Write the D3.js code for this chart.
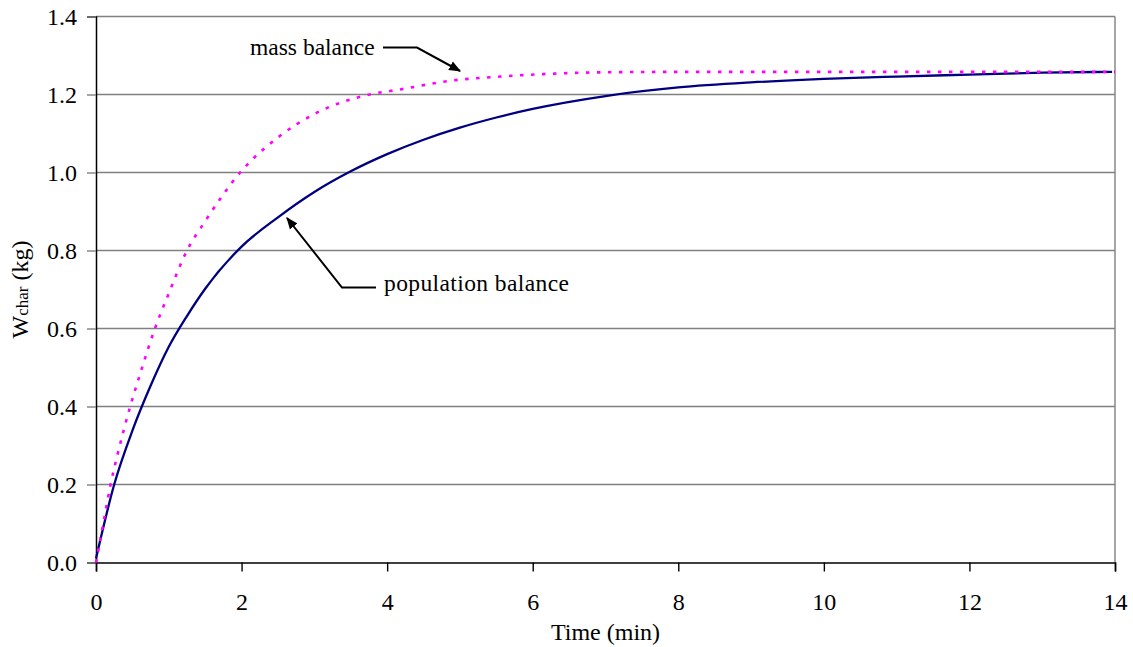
<!DOCTYPE html>
<html>
<head>
<meta charset="utf-8">
<script src="https://cdn.jsdelivr.net/npm/d3@7"></script>
<style>
  html, body { margin: 0; padding: 0; background: #fff; }
  svg { display: block; }
  text { font-family: "Liberation Serif", "Times New Roman", serif; fill: #000; }
</style>
</head>
<body>
<svg id="chart" width="1133" height="647"></svg>
<script>
// ---- data ----
const massTime  = [0, 0.1, 0.2, 0.3, 0.47, 0.6, 0.81, 1.0, 1.25, 1.5, 1.98, 2.5, 3.0, 3.76, 4.18, 4.86, 5.55, 6.37, 7.0, 8.0, 10.0, 12.0, 14.0];
const massValue = [0, 0.10, 0.20, 0.28, 0.40, 0.48, 0.60, 0.69, 0.80, 0.875, 1.00, 1.09, 1.15, 1.20, 1.213, 1.235, 1.246, 1.254, 1.257, 1.258, 1.258, 1.258, 1.258];

const popTime  = [0, 0.25, 0.5, 0.75, 1.0, 1.25, 1.5, 2.0, 2.5, 3.0, 3.5, 4.0, 4.5, 5.0, 5.5, 6.0, 7.0, 8.0, 9.0, 10.0, 11.0, 12.0, 13.0, 13.96];
const popValue = [0.01, 0.20, 0.338, 0.453, 0.553, 0.632, 0.702, 0.81, 0.885, 0.95, 1.003, 1.047, 1.084, 1.115, 1.141, 1.163, 1.196, 1.218, 1.231, 1.24, 1.246, 1.251, 1.256, 1.258];

const xTicks = [0, 2, 4, 6, 8, 10, 12, 14];
const yTicks = [0, 0.2, 0.4, 0.6, 0.8, 1.0, 1.2, 1.4];

const labels = {
  x: "Time (min)",
  yMain: "W",
  ySub: "char",
  yUnit: " (kg)",
  mass: "mass balance",
  pop: "population balance"
};

// ---- layout ----
const svg = d3.select("#chart");
const L = 96, R = 1115, T = 16.5, B = 562.5;

const x = d3.scaleLinear().domain([0, 14]).range([L, R]);
const y = d3.scaleLinear().domain([0, 1.4]).range([B, T]);

// gridlines
svg.append("g")
  .selectAll("line")
  .data(yTicks.slice(1))
  .join("line")
  .attr("x1", L).attr("x2", R)
  .attr("y1", d => y(d)).attr("y2", d => y(d))
  .attr("stroke", "#808080").attr("stroke-width", 1.4);

// right border
svg.append("line")
  .attr("x1", R).attr("x2", R).attr("y1", T).attr("y2", B)
  .attr("stroke", "#808080").attr("stroke-width", 1.4);

// y axis
const yAxis = d3.axisLeft(y).tickValues(yTicks).tickFormat(d3.format(".1f")).tickSize(9).tickPadding(10);
const gy = svg.append("g").attr("transform", `translate(${L},0)`).call(yAxis);
gy.select(".domain").attr("stroke", "#000").attr("stroke-width", 1.5);
gy.selectAll(".tick line").attr("stroke", "#808080").attr("stroke-width", 1.4);
gy.selectAll(".tick text").style("font-size", "24px").style("font-family", "Liberation Serif").attr("fill", "#000");

// x axis
const xAxis = d3.axisBottom(x).tickValues(xTicks).tickFormat(d3.format("d")).tickSize(9).tickPadding(21);
const gx = svg.append("g").attr("transform", `translate(0,${B})`).call(xAxis);
gx.select(".domain").attr("stroke", "#000").attr("stroke-width", 1.5);
gx.selectAll(".tick line").attr("stroke", "#000").attr("stroke-width", 1.4);
gx.selectAll(".tick text").style("font-size", "24px").style("font-family", "Liberation Serif").attr("fill", "#000");

// series
const massData = massTime.map((t, i) => [t, massValue[i]]);
const popData = popTime.map((t, i) => [t, popValue[i]]);
const line = d3.line().x(d => x(d[0])).y(d => y(d[1])).curve(d3.curveMonotoneX);

svg.append("path").datum(popData)
  .attr("d", line)
  .attr("fill", "none").attr("stroke", "#000080").attr("stroke-width", 2.3);

svg.append("path").datum(massData)
  .attr("d", line)
  .attr("fill", "none").attr("stroke", "#FF00FF").attr("stroke-width", 2.6)
  .attr("stroke-dasharray", "3.5,7.5");

// axis titles
svg.append("text")
  .attr("x", (L + R) / 2).attr("y", 640)
  .attr("text-anchor", "middle").style("font-size", "24px")
  .text(labels.x);

const yt = svg.append("text")
  .attr("transform", `translate(28,${(T + B) / 2}) rotate(-90)`)
  .attr("text-anchor", "middle").style("font-size", "24px");
yt.append("tspan").text(labels.yMain);
yt.append("tspan").style("font-size", "17px").text(labels.ySub);
yt.append("tspan").text(labels.yUnit);

// annotations
const defs = svg.append("defs");
defs.append("marker").attr("id", "arr")
  .attr("viewBox", "0 0 10 10").attr("refX", 9).attr("refY", 5)
  .attr("markerWidth", 6).attr("markerHeight", 6).attr("orient", "auto")
  .append("path").attr("d", "M0,1 L10,5 L0,9 Z").attr("fill", "#000");

svg.append("text").attr("x", 250).attr("y", 55).style("font-size", "23.5px").text(labels.mass);
svg.append("path")
  .attr("d", "M383,47.5 L417,47.5 L460,71")
  .attr("fill", "none").attr("stroke", "#000").attr("stroke-width", 2)
  .attr("marker-end", "url(#arr)");

svg.append("text").attr("x", 384).attr("y", 291).style("font-size", "23.5px")
  .style("letter-spacing", "0.4px").text(labels.pop);
svg.append("path")
  .attr("d", "M376,287.5 L342,287.5 L287,218")
  .attr("fill", "none").attr("stroke", "#000").attr("stroke-width", 2)
  .attr("marker-end", "url(#arr)");
</script>
</body>
</html>
